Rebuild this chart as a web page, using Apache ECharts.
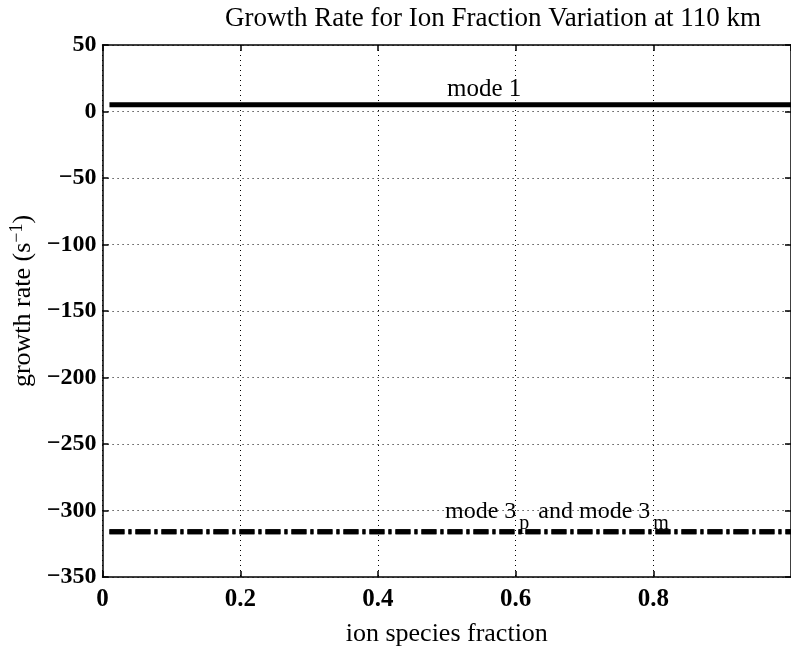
<!DOCTYPE html>
<html>
<head>
<meta charset="utf-8">
<script src="https://cdn.jsdelivr.net/npm/echarts@6/dist/echarts.min.js"></script>
<style>
  html, body { margin: 0; padding: 0; background: #fff; }
  #chart { width: 791px; height: 652px; }
</style>
</head>
<body>
<div id="chart"></div>
<script>
// ---- data ----
const titleText = 'Growth Rate for Ion Fraction Variation at 110 km';
const xName = 'ion species fraction';
const fraction = [0.01, 0.1, 0.2, 0.3, 0.4, 0.5, 0.6, 0.7, 0.8, 0.9, 1.0];
const mode1 = [5, 5, 5, 5, 5, 5, 5, 5, 5, 5, 5];
const mode3p = [-316, -316, -316, -316, -316, -316, -316, -316, -316, -316, -316];
const mode3m = [-316, -316, -316, -316, -316, -316, -316, -316, -316, -316, -316];
const xTicks = [0, 0.2, 0.4, 0.6, 0.8, 1];
const yTicks = [-350, -300, -250, -200, -150, -100, -50, 0, 50];

const font = 'Liberation Serif';
const pairs = (xs, ys) => xs.map((x, i) => [x, ys[i]]);
const fmt = v => String(v).replace('-', '\u2212');

const tickStyle = { show: true, inside: true, length: 6, lineStyle: { color: '#000', width: 1.5 } };
const axisLineStyle = { show: true, onZero: false, lineStyle: { color: '#000', width: 1.5 } };
const gridLine = { show: true, lineStyle: { color: '#000', width: 1, type: [1, 4] } };

const chart = echarts.init(document.getElementById('chart'), null, { renderer: 'canvas' });
chart.setOption({
  animation: false,
  backgroundColor: '#fff',
  title: {
    text: titleText,
    left: 488, textAlign: 'center', top: 0,
    textStyle: { fontFamily: font, fontSize: 27, fontWeight: 'normal', color: '#000' }
  },
  grid: {
    left: 98, top: 45, width: 698, height: 548,
    show: false
  },
  xAxis: [{
    type: 'value', min: xTicks[0], max: xTicks[xTicks.length - 1], interval: 0.2,
    name: xName, nameLocation: 'middle', nameGap: 44,
    nameTextStyle: { fontFamily: font, fontSize: 26, color: '#000' },
    axisLine: axisLineStyle,
    axisTick: tickStyle,
    axisLabel: {
      fontFamily: font, fontSize: 25, fontWeight: 'bold', color: '#000', margin: 10,
      showMaxLabel: false, formatter: fmt
    },
    splitLine: gridLine
  }, {
    type: 'value', position: 'top', min: xTicks[0], max: xTicks[xTicks.length - 1], interval: 0.2,
    axisLine: axisLineStyle, axisTick: tickStyle,
    axisLabel: { show: false }, splitLine: { show: false }
  }],
  yAxis: [{
    type: 'value', min: yTicks[0], max: yTicks[yTicks.length - 1], interval: 50,
    name: 'growth rate (s{sup|\u22121})', nameLocation: 'middle', nameGap: 40,
    nameTextStyle: {
      fontFamily: font, fontSize: 26, color: '#000', padding: [0, 0, 0, 20],
      rich: { sup: { fontFamily: font, fontSize: 18, verticalAlign: 'top', padding: [0, 0, 12, 0] } }
    },
    axisLine: axisLineStyle,
    axisTick: tickStyle,
    axisLabel: { fontFamily: font, fontSize: 24, fontWeight: 'bold', color: '#000', margin: 6, formatter: fmt },
    splitLine: gridLine
  }, {
    type: 'value', position: 'right', min: yTicks[0], max: yTicks[yTicks.length - 1], interval: 50,
    axisLine: axisLineStyle, axisTick: tickStyle,
    axisLabel: { show: false }, splitLine: { show: false }
  }],
  series: [{
    name: 'mode 1', type: 'line', data: pairs(fraction, mode1), showSymbol: false,
    lineStyle: { color: '#000', width: 5 }
  }, {
    name: 'mode 3p', type: 'line', data: pairs(fraction, mode3p), showSymbol: false,
    lineStyle: { color: '#000', width: 5, type: [15, 4, 3, 4] }
  }, {
    name: 'mode 3m', type: 'line', data: pairs(fraction, mode3m), showSymbol: false,
    lineStyle: { color: '#000', width: 5, type: [15, 4, 3, 4] }
  }],
  graphic: [{
    type: 'text', left: 447, top: 77,
    style: { text: 'mode 1', font: '25px "Liberation Serif"', fill: '#000' }
  }, {
    type: 'text', left: 445, top: 500,
    style: {
      text: 'mode 3{sub|p} and mode 3{sub|m}',
      font: '24px "Liberation Serif"', fill: '#000',
      rich: { sub: { font: '20px "Liberation Serif"', fill: '#000', padding: [24, 3, 0, 3] } }
    }
  }]
});
</script>
</body>
</html>
